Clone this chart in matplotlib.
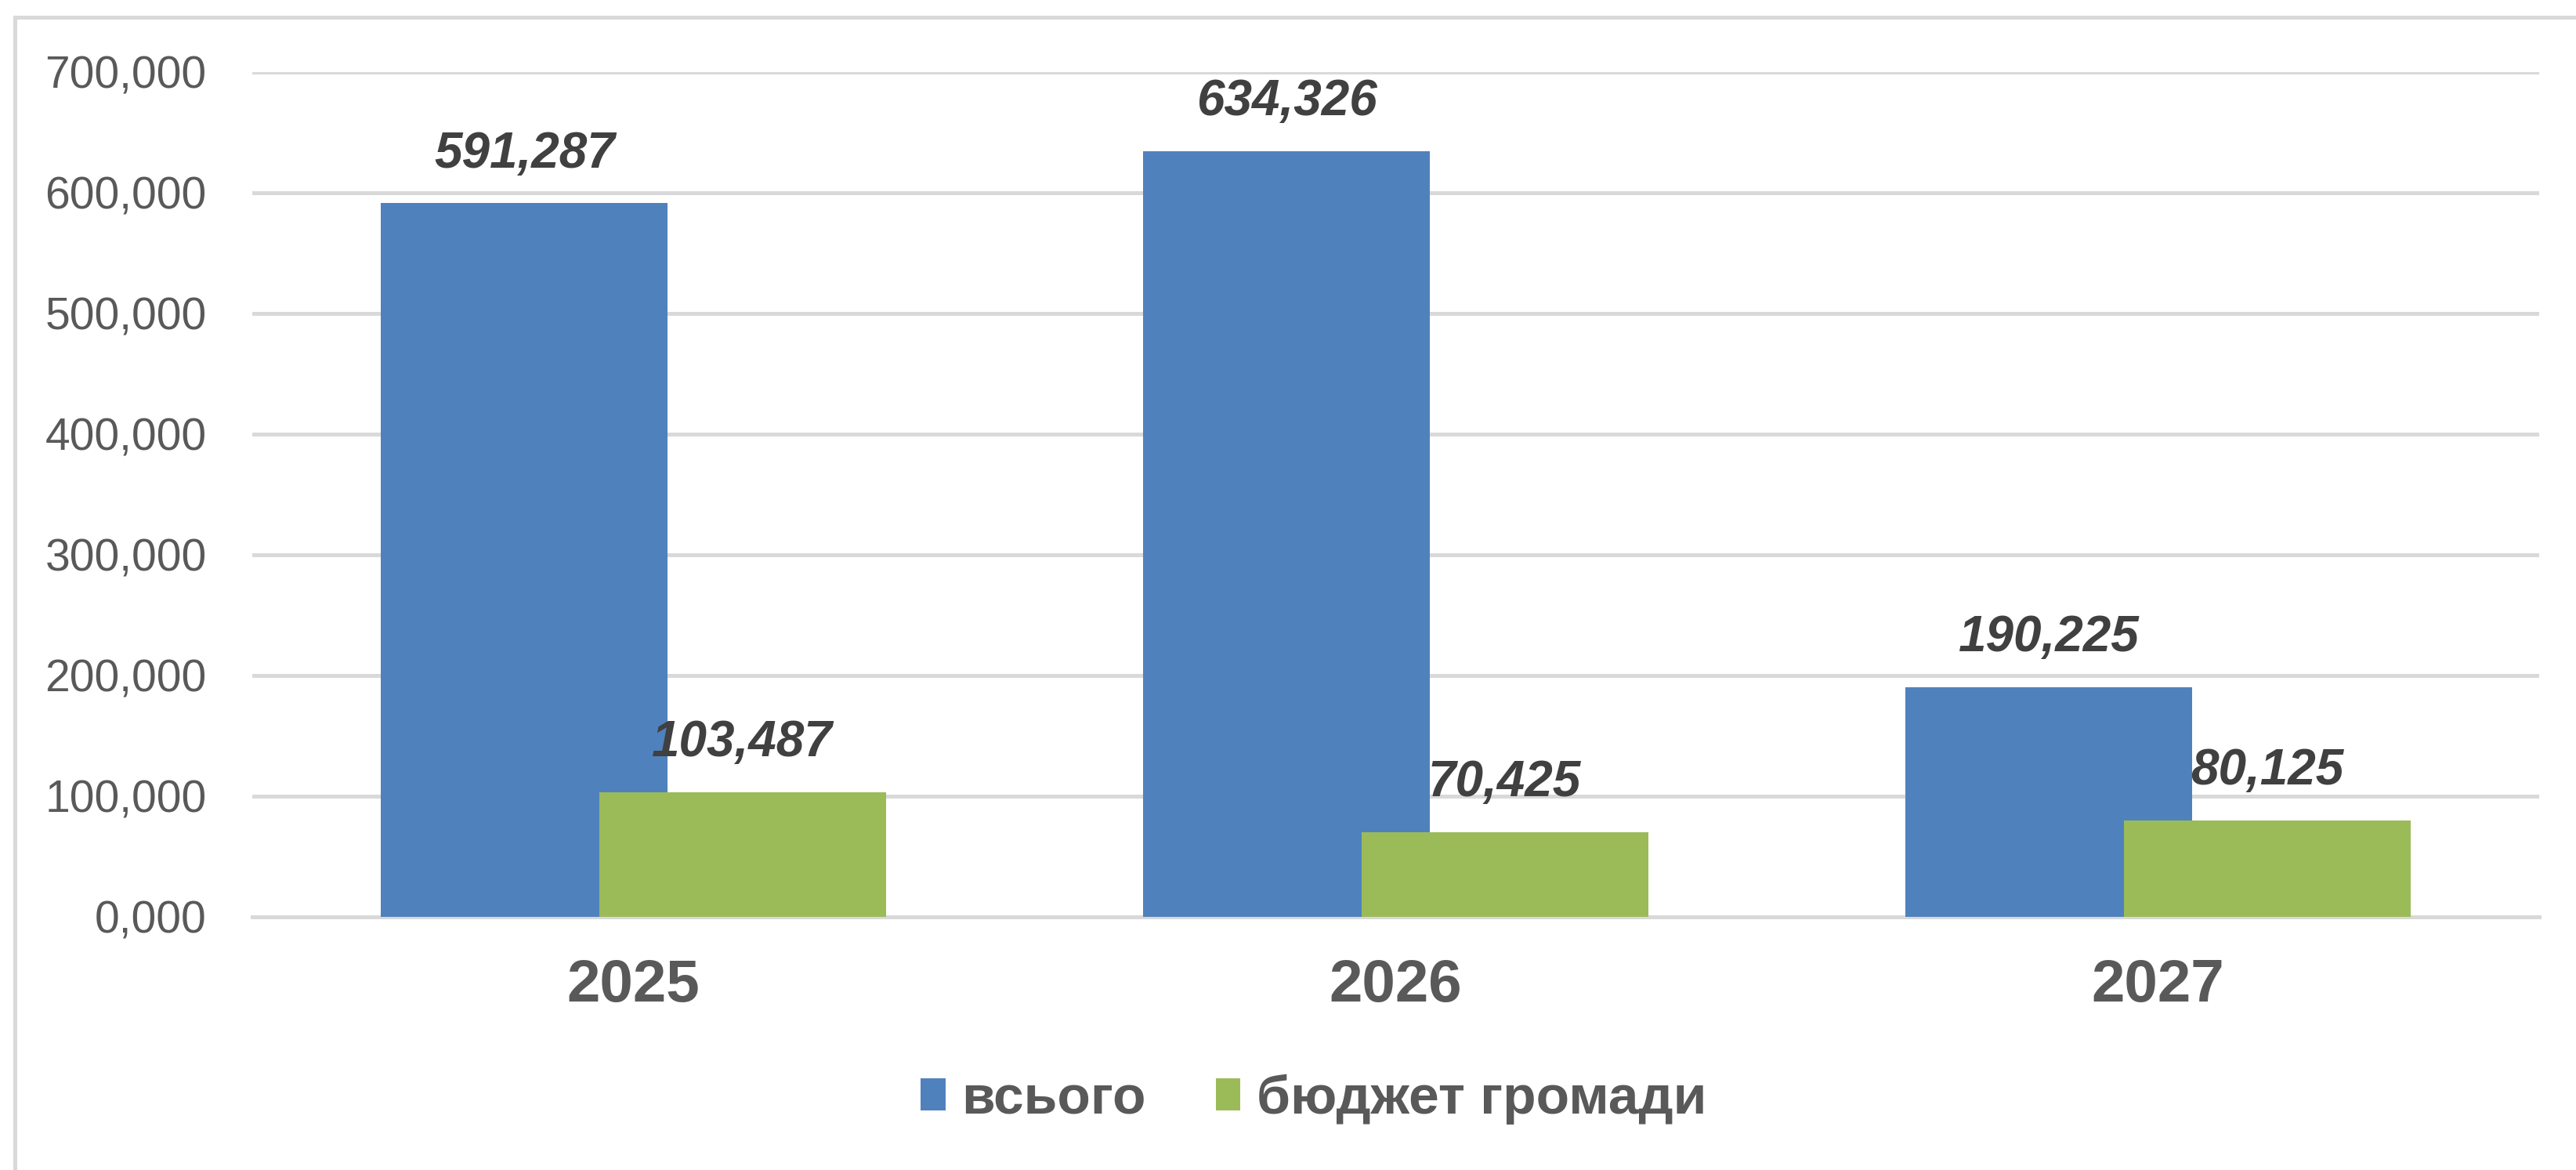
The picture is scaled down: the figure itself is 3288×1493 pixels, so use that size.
import matplotlib
matplotlib.use("Agg")
import matplotlib.pyplot as plt
from matplotlib.patches import Patch, Rectangle
from matplotlib.ticker import FuncFormatter
import numpy as np

categories = ["2025", "2026", "2027"]
series_names = ["всього", "бюджет громади"]
total_values = [591.287, 634.326, 190.225]
budget_values = [103.487, 70.425, 80.125]
y_ticks = [0, 100, 200, 300, 400, 500, 600, 700]

colors = ["#4F81BD", "#9BBB59"]

plt.rcParams['font.family'] = ['Liberation Sans', 'DejaVu Sans']

W, H = 3288, 1493
fig = plt.figure(figsize=(W / 100, H / 100), dpi=100)
fig.patch.set_facecolor("white")

ax = fig.add_axes([322 / W, 1 - 1170 / H, (3241 - 322) / W, (1170 - 92) / H])

x = np.arange(len(categories))
bw = 0.376
off = 0.143

bars1 = ax.bar(x - off, total_values, width=bw, color=colors[0], zorder=3)
bars2 = ax.bar(x + off, budget_values, width=bw, color=colors[1], zorder=4)

def fmt(v):
    return f"{v:,.3f}".replace(",", " ").replace(".", ",").replace(" ", ",")

for bars, vals in ((bars1, total_values), (bars2, budget_values)):
    for b, v in zip(bars, vals):
        ax.annotate(f"{v:.3f}".replace(".", ","),
                    xy=(b.get_x() + b.get_width() / 2, v),
                    xytext=(0, 33), textcoords="offset points",
                    ha="center", va="baseline",
                    fontsize=46, fontweight="bold", fontstyle="italic",
                    color="#404040", zorder=6)

ax.set_xlim(-0.5, 2.5)
ax.set_ylim(0, 700)
ax.set_yticks(y_ticks)
ax.yaxis.set_major_formatter(FuncFormatter(lambda v, p: f"{int(v)},000"))
ax.set_xticks(x)
ax.set_xticklabels(categories)

ax.grid(axis="y", color="#D9D9D9", linewidth=3.6, zorder=0)
ax.set_axisbelow(True)
for s in ["top", "right", "left"]:
    ax.spines[s].set_visible(False)
ax.spines["bottom"].set_color("#D9D9D9")
ax.spines["bottom"].set_linewidth(3.6)
ax.spines["bottom"].set_zorder(2)

ax.tick_params(axis="y", length=0, pad=42, labelsize=41, labelcolor="#595959")
ax.tick_params(axis="x", length=0, pad=38, labelsize=55, labelcolor="#595959")
for lbl in ax.get_xticklabels():
    lbl.set_fontweight("bold")

handles = [Patch(facecolor=c, edgecolor="none", label=n) for c, n in zip(colors, series_names)]
leg = fig.legend(handles=handles, loc="center", bbox_to_anchor=(0.51, 1 - 1403 / H),
                 ncol=2, frameon=False, fontsize=50,
                 handlelength=0.45, handleheight=0.52, handletextpad=0.3,
                 columnspacing=1.28, borderaxespad=0)
for t in leg.get_texts():
    t.set_color("#595959")
    t.set_fontweight("bold")

# outer chart frame
fig.patches.append(Rectangle((19 / W, -0.05), 1.1, 1 - 22 / H + 0.05,
                             transform=fig.transFigure, fill=False,
                             edgecolor="#D9D9D9", linewidth=3.6, zorder=0))

fig.savefig("out.png", dpi=100, facecolor="white")
